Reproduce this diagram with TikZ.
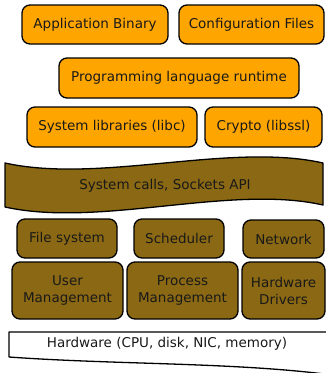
\documentclass[tikz,border=0pt]{standalone}
\usepackage{fontspec}
\setmainfont{DejaVu Sans}
\definecolor{userorange}{HTML}{FFA500}
\definecolor{kernelbrown}{HTML}{8B6914}
\begin{document}
\begin{tikzpicture}[x=1pt,y=-1pt,
  txt/.style={font=\fontsize{13.5}{17}\selectfont, align=center, text=black!90},
  layer/.style={txt, draw=black, line width=1.3pt, rounded corners=8pt, inner sep=0pt},
  userbox/.style={layer, fill=userorange},
  kernbox/.style={layer, fill=kernelbrown},
  band/.style={draw=black, line width=1.3pt, line join=round}]
\useasboundingbox (0,0) rectangle (325,373);

% user space
\node[userbox, minimum width=146pt, minimum height=39pt] (appbin) at (95,24.5) {Application Binary};
\node[userbox, minimum width=145pt, minimum height=39pt] (config) at (251.5,24.5) {Configuration Files};
\node[userbox, minimum width=240pt, minimum height=40pt] (runtime) at (179,78) {Programming language runtime};
\node[userbox, minimum width=170pt, minimum height=40pt] (libc) at (112,127) {System libraries (libc)};
\node[userbox, minimum width=117pt, minimum height=40pt] (crypto) at (263.5,127) {Crypto (libssl)};

% system call interface
\draw[band, fill=kernelbrown]
  (5,163) .. controls (100,184) and (230,142) .. (323,163)
  -- (323,205) .. controls (230,184) and (100,228) .. (5,207) -- cycle;
\node[txt] (syscalls) at (165,186) {System calls, Sockets API};

% kernel
\node[kernbox, minimum width=100pt, minimum height=39pt] (fs) at (67,238.5) {File system};
\node[kernbox, minimum width=90pt, minimum height=39pt] (sched) at (179,238.5) {Scheduler};
\node[kernbox, minimum width=81pt, minimum height=38pt] (net) at (283.5,239) {Network};
\node[kernbox, minimum width=111pt, minimum height=57pt] (usermgmt) at (67.5,290.5) {User\\Management};
\node[kernbox, minimum width=111pt, minimum height=57pt] (procmgmt) at (182.5,290.5) {Process\\Management};
\node[kernbox, minimum width=83pt, minimum height=57pt] (drivers) at (283.5,290.5) {Hardware\\Drivers};

% hardware
\draw[band, fill=white]
  (340,332) -- (9,332) -- (9,357)
  .. controls (120,365) and (240,362) .. (340,376);
\node[txt] (hw) at (167,344) {Hardware (CPU, disk, NIC, memory)};
\end{tikzpicture}
\end{document}
